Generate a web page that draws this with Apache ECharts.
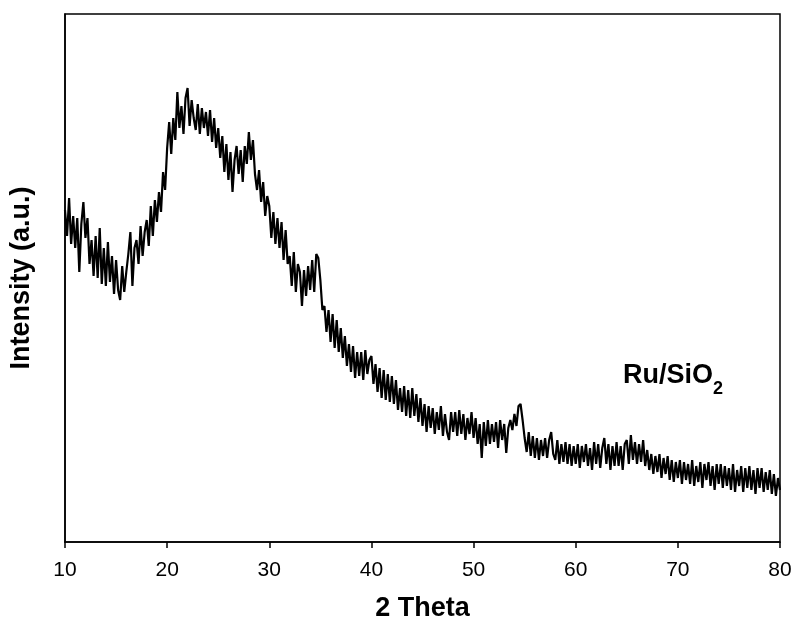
<!DOCTYPE html>
<html><head><meta charset="utf-8">
<script src="https://cdn.jsdelivr.net/npm/echarts@6/dist/echarts.min.js"></script>
<style>html,body{margin:0;padding:0;background:#fff}#c{width:794px;height:621px}</style>
</head><body><div id="c"></div>
<script>
// 2θ from 10 to 80 in 0.2° steps
var thetaStart = 10, thetaStep = 0.2;
var intensity = [
 332,306,344,298,326,
 294,324,270,318,340,
 304,324,278,302,266,
 306,264,314,258,294,
 256,300,260,286,248,
 282,252,242,276,250,
 270,288,310,256,294,
 302,278,316,286,310,
 322,296,336,306,342,
 320,350,330,370,352,
 394,420,388,424,402,
 450,414,436,408,444,
 454,416,442,424,412,
 438,408,434,414,430,
 406,432,400,424,394,
 414,384,406,370,398,
 362,390,350,382,396,
 368,392,360,396,378,
 410,382,402,368,352,
 372,340,360,326,346,
 336,304,330,298,324,
 294,320,282,312,278,
 286,256,290,250,278,
 270,236,272,246,276,
 252,282,250,288,284,
 262,232,236,210,232,
 200,228,194,222,190,
 214,184,206,176,198,
 170,196,164,190,166,
 190,162,192,168,182,
 186,158,178,150,174,
 144,172,142,168,140,
 166,138,162,132,154,
 130,156,126,152,124,
 154,126,148,120,144,
 116,138,110,136,114,
 134,108,130,112,136,
 106,128,110,102,130,
 110,130,106,132,108,
 128,102,124,108,130,
 104,124,98,118,84,
 120,96,122,98,118,
 100,120,94,122,102,
 118,89,114,122,112,
 128,116,136,138,122,
 104,90,110,86,106,
 84,104,82,102,86,
 104,84,102,110,88,
 82,102,78,98,80,
 100,78,98,76,96,
 78,98,74,96,80,
 98,76,94,72,100,
 78,98,74,94,104,
 78,98,72,96,76,
 100,76,96,72,98,
 102,78,107,82,100,
 78,98,80,102,76,
 92,72,88,68,86,
 70,88,64,84,68,
 86,62,82,60,80,
 64,82,58,80,62,
 78,58,82,56,76,
 60,80,54,78,62,
 80,56,76,52,78,
 58,78,54,76,56,
 74,52,78,50,72,
 56,76,50,74,54,
 76,52,72,48,74,
 54,74,50,70,52,
 72,48,68,46,64,
 52
];
var xTicks = [10,20,30,40,50,60,70,80];
var sampleLabel = 'Ru/SiO';
var sampleSub = '2';

var pts = intensity.map(function(v,i){ return [+(thetaStart + i*thetaStep).toFixed(2), v]; });

var chart = echarts.init(document.getElementById('c'), null, {renderer:'canvas'});
chart.setOption({
  animation:false,
  backgroundColor:'#fff',
  grid:{left:65,right:14,top:14,bottom:79,outerBoundsMode:'none',containLabel:false,show:true,borderColor:'#000',borderWidth:1.5,backgroundColor:'transparent'},
  xAxis:{
    type:'value',min:xTicks[0],max:xTicks[xTicks.length-1],interval:10,
    name:'2 Theta',nameLocation:'middle',nameGap:53,
    nameTextStyle:{fontFamily:'Liberation Sans',fontWeight:'bold',fontSize:27,color:'#000'},
    axisLine:{show:true,lineStyle:{color:'#000',width:1.5}},
    axisTick:{show:true,inside:false,length:6,lineStyle:{color:'#000',width:1.5}},
    axisLabel:{fontFamily:'Liberation Sans',fontSize:21,color:'#000',margin:18},
    splitLine:{show:false}
  },
  yAxis:{
    type:'value',min:0,max:528,
    name:'Intensity (a.u.)',nameLocation:'middle',nameGap:30,nameRotate:90,
    nameTextStyle:{fontFamily:'Liberation Sans',fontWeight:'bold',fontSize:27,color:'#000'},
    axisLine:{show:true,lineStyle:{color:'#000',width:1.5}},
    axisTick:{show:false},axisLabel:{show:false},splitLine:{show:false}
  },
  graphic:[
    {type:'text',left:623,top:362,style:{text:sampleLabel,fontFamily:'Liberation Sans',fontWeight:'bold',fontSize:27,fill:'#000'}},
    {type:'text',left:713,top:380,style:{text:sampleSub,fontFamily:'Liberation Sans',fontWeight:'bold',fontSize:18,fill:'#000'}}
  ],
  series:[{
    type:'line',data:pts,showSymbol:false,symbol:'none',
    lineStyle:{color:'#000',width:2.2}
  }]
});
</script></body></html>
